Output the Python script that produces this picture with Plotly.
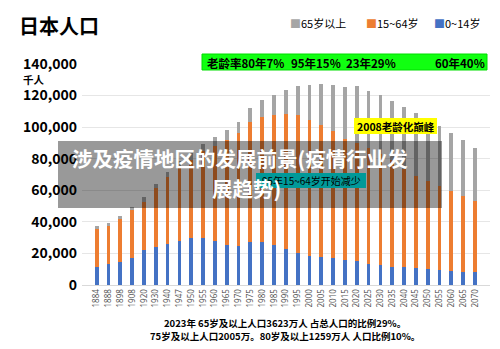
import plotly.graph_objects as go

years = ["1884","1888","1898","1908","1920","1930","1940","1947","1950","1955","1960","1965","1970",
         "1975","1980","1985","1990","1995","2000","2005","2010","2015","2020","2025","2030","2035",
         "2040","2045","2050","2055","2060","2065","2070"]
age_0_14 = [11600,13300,14800,17200,22300,24300,26000,27900,29600,29900,28100,25200,24500,
            27200,27500,25500,22500,20400,18500,17500,16800,15900,15000,13600,12400,11700,
            11400,11000,10400,9700,8900,8400,8000]
age_15_64 = [23900,24300,26800,30300,30500,36900,42600,47100,49900,55000,60000,66900,71600,
             75800,78800,82500,85900,87200,86200,84100,81000,76300,75100,73100,70800,67200,
             62100,58300,55400,53100,50800,48100,45400]
age_65 = [1900,1900,2100,2200,3000,3100,3300,3500,4100,4700,5400,6200,7300,
          8900,10600,12500,14900,18300,22000,25700,29200,33500,36000,36500,37000,37700,
          39300,39500,38900,37800,36400,35100,33700]
y_ticks = [0,20000,40000,60000,80000,100000,120000,140000]
y_tick_text = ["0","20,000","40,000","60,000","80,000","100,000","120,000","140,000"]

C_BLUE, C_ORANGE, C_GRAY = "#4472C4", "#ED7D31", "#A5A5A5"
FONT = "Noto Sans CJK SC"

W, H = 500, 349
L, R, T, B = 82, 490, 64, 285

def px(x):
    return (x - L) / (R - L)

def py(y):
    return (B - y) / (B - T)

fig = go.Figure()
for name, vals, col in [("0~14岁", age_0_14, C_BLUE), ("15~64岁", age_15_64, C_ORANGE), ("65岁以上", age_65, C_GRAY)]:
    fig.add_trace(go.Bar(x=years, y=vals, name=name, marker=dict(color=col, line=dict(width=0)),
                         width=0.32, showlegend=False))

fig.update_layout(
    width=W, height=H, barmode="stack",
    margin=dict(l=L, r=W - R, t=T, b=H - B),
    paper_bgcolor="white", plot_bgcolor="white",
    font=dict(family=FONT, color="#000"),
    xaxis=dict(type="category", range=[-1.24, 33.27], tickangle=-90,
               tickfont=dict(family="Noto Sans", size=8, color="#595959"),
               showgrid=False, showline=True, linecolor="#D9D9D9", ticks=""),
    yaxis=dict(range=[0, 140000], tickvals=y_ticks, ticktext=y_tick_text,
               tickfont=dict(family=FONT, size=14, color="#000", weight="bold"),
               showgrid=True, gridcolor="#E6E6E6", gridwidth=1, zeroline=False,
               ticklabelstandoff=4),
)

shapes = []
annos = []

def A(xp, yp, text, size, xanchor="center", color="#000", weight="bold", family=FONT):
    return dict(x=px(xp), y=py(yp), xref="paper", yref="paper", text=text, showarrow=False,
                xanchor=xanchor, yanchor="middle",
                font=dict(size=size, color=color, weight=weight, family=family))

def rect(x0, y0, x1, y1, fill, line=None):
    return dict(type="rect", xref="paper", yref="paper", x0=px(x0), x1=px(x1), y0=py(y0), y1=py(y1),
                fillcolor=fill, line=dict(width=0 if line is None else 1, color=line or fill), layer="above")

# title
annos.append(A(17, 26, "日本人口", 20, xanchor="left"))
# legend
annos.append(A(288, 23, f"<span style='color:{C_GRAY}'>■</span>65岁以上", 11, xanchor="left", weight="normal"))
annos.append(A(364, 23, f"<span style='color:{C_ORANGE}'>■</span>15~64岁", 11, xanchor="left", weight="normal"))
annos.append(A(432, 23, f"<span style='color:{C_BLUE}'>■</span>0~14岁", 11, xanchor="left", weight="normal"))
# unit
annos.append(A(21, 79, "千人", 10.5, xanchor="left"))

# green box
shapes.append(rect(202, 54, 487, 70, "#11FF11", "#00DD00"))
annos.append(A(205, 62.5, "老龄率80年7%", 11.5, xanchor="left"))
annos.append(A(289, 62.5, "95年15%", 11.5, xanchor="left"))
annos.append(A(344, 62.5, "23年29%", 11.5, xanchor="left"))
annos.append(A(433, 62.5, "60年40%", 11.5, xanchor="left"))
# yellow box
shapes.append(rect(354, 118, 437, 134, "#FFFF00"))
annos.append(A(395.5, 126, "2008老龄化巅峰", 10.5))
# teal box
shapes.append(rect(256, 173, 366, 188, "#00FFFF"))
annos.append(A(311, 180.5, "95年15~64岁开始减少", 10, weight="normal"))
# overlay
shapes.append(rect(58, 141, 442, 208, "rgba(0,0,0,0.4)"))
annos.append(A(240, 158, "涉及疫情地区的发展前景(疫情行业发", 20.5, color="white"))
annos.append(A(246, 188, "展趋势)", 20.5, color="white"))
# bottom text
annos.append(A(285, 323, "2023年 65岁及以上人口3623万人 占总人口的比例29%。", 9.5))
annos.append(A(285, 335.5, "75岁及以上人口2005万。80岁及以上1259万人 人口比例10%。", 9.5))

fig.update_layout(shapes=shapes, annotations=annos)
fig.write_html("out.html")
